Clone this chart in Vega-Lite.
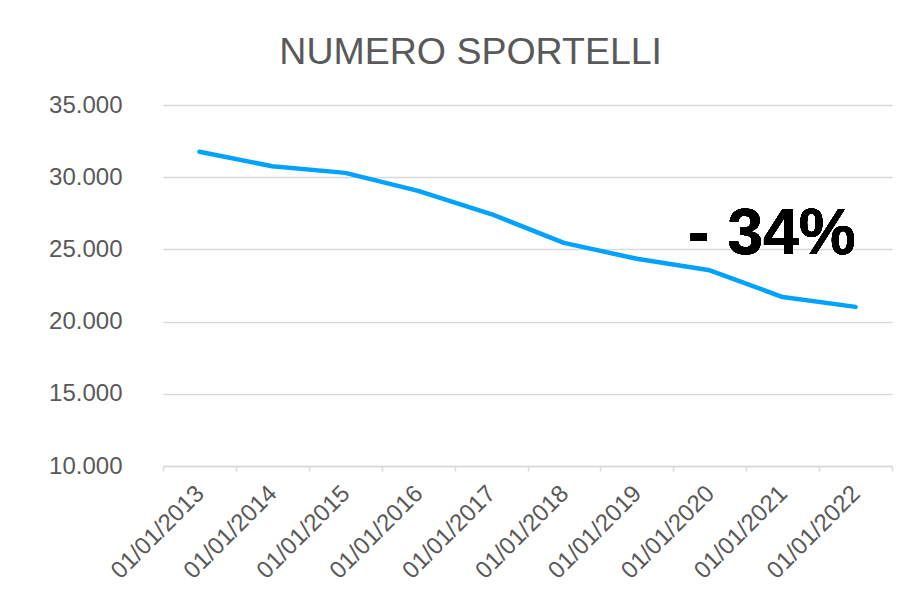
{
  "$schema": "https://vega.github.io/schema/vega-lite/v6.json",
  "width": 729,
  "height": 361,
  "autosize": {"type": "none"},
  "padding": {"left": 163, "top": 105, "right": 8, "bottom": 131},
  "background": "white",
  "config": {
    "view": {"stroke": null},
    "font": "Liberation Sans"
  },
  "title": {
    "text": "NUMERO SPORTELLI",
    "fontSize": 37.5,
    "fontWeight": "normal",
    "font": "Liberation Sans",
    "color": "#595959",
    "anchor": "middle",
    "frame": "bounds",
    "offset": 22
  },
  "data": {
    "values": [
      {"data": "01/01/2013", "sportelli": 31760},
      {"data": "01/01/2014", "sportelli": 30760},
      {"data": "01/01/2015", "sportelli": 30300},
      {"data": "01/01/2016", "sportelli": 29050},
      {"data": "01/01/2017", "sportelli": 27450},
      {"data": "01/01/2018", "sportelli": 25450},
      {"data": "01/01/2019", "sportelli": 24350},
      {"data": "01/01/2020", "sportelli": 23550},
      {"data": "01/01/2021", "sportelli": 21700},
      {"data": "01/01/2022", "sportelli": 21020}
    ]
  },
  "layer": [
    {
      "mark": {"type": "line", "color": "#00A2FF", "strokeWidth": 4.5, "strokeCap": "round", "strokeJoin": "round"},
      "encoding": {
        "x": {
          "field": "data",
          "type": "ordinal",
          "sort": null,
          "bandPosition": 0.5,
          "scale": {"type": "band", "paddingInner": 0, "paddingOuter": 0},
          "axis": {
            "title": null,
            "labelAngle": -45,
            "labelFontSize": 24,
            "labelColor": "#595959",
            "labelFont": "Liberation Sans",
            "labelPadding": 10,
            "labelOffset": -8,
            "tickBand": "extent",
            "ticks": true,
            "tickSize": 5,
            "tickColor": "#d9d9d9",
            "tickWidth": 1.5,
            "domainColor": "#d9d9d9",
            "domainWidth": 1.5,
            "grid": false
          }
        },
        "y": {
          "field": "sportelli",
          "type": "quantitative",
          "scale": {"domain": [10000, 35000], "nice": false, "zero": false},
          "axis": {
            "title": null,
            "values": [10000, 15000, 20000, 25000, 30000, 35000],
            "labelExpr": "replace(format(datum.value, ','), ',', '.')",
            "labelFontSize": 24,
            "labelColor": "#595959",
            "labelFont": "Liberation Sans",
            "labelPadding": 41,
            "ticks": false,
            "domain": false,
            "grid": true,
            "gridColor": "#d9d9d9",
            "gridWidth": 1.5
          }
        }
      }
    },
    {
      "mark": {
        "type": "text",
        "text": "- 34%",
        "font": "Liberation Sans",
        "fontSize": 64,
        "fontWeight": "bold",
        "color": "black",
        "align": "right",
        "baseline": "alphabetic"
      },
      "encoding": {
        "x": {"datum": "01/01/2022", "type": "ordinal", "bandPosition": 0.5},
        "y": {"datum": 24700, "type": "quantitative"}
      }
    }
  ]
}
